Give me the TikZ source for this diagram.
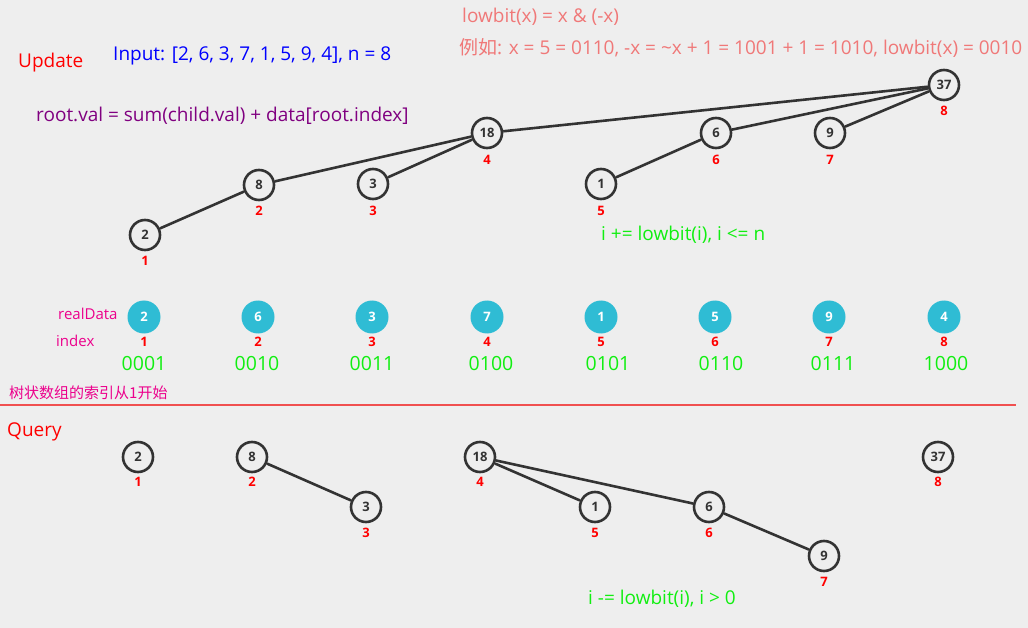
\documentclass[tikz,border=0pt]{standalone}
\usepackage{fontspec}
\setmainfont{Open Sans}
\newfontfamily\cjk{Noto Sans CJK SC}
\usepackage{xcolor}

\definecolor{bgGray}{HTML}{EEEEEE}
\definecolor{edgeGray}{HTML}{333333}
\definecolor{dataCyan}{HTML}{2FBCD4}
\definecolor{noteRed}{HTML}{F07878}
\definecolor{codeGreen}{HTML}{11EE11}
\definecolor{rootPurple}{HTML}{800080}
\definecolor{cutRed}{HTML}{F05050}

\begin{document}
\begin{tikzpicture}[x=1pt,y=-1pt]
            \tikzstyle{every node}+=[inner sep=0pt]
            \tikzstyle{tree}=[circle, draw=edgeGray, line width=2.6pt, minimum size=30pt, font=\fontsize{13}{13}\selectfont\bfseries, text=edgeGray]
            \tikzstyle{data}=[circle, fill=dataCyan, minimum size=33pt, font=\fontsize{13}{13}\selectfont\bfseries, text=white]
            \tikzstyle{idx}=[font=\fontsize{13}{13}\selectfont\bfseries, text=red]
            \tikzstyle{link}=[edgeGray, line width=2.6pt]
            \tikzstyle{txt}=[anchor=west, font=\fontsize{19}{21}\selectfont]
            \tikzstyle{bits}=[text=codeGreen, font=\fontsize{19.5}{21}\selectfont]
            \useasboundingbox (0,0) rectangle (1028,628);
            \fill [bgGray] (0,0) rectangle (1028,628);
            % formulas on top
            \node (lowbit) [txt, text=noteRed] at (462,17) {lowbit(x) = x \& (-x)};
            \node (example) [txt, text=noteRed] at (459,48) {{\cjk 例如}: x = 5 = 0110, -x = \textasciitilde x + 1 = 1001 + 1 = 1010, lowbit(x) = 0010};
            \node (update) [txt, text=red] at (18,63) {Update};
            \node (input) [txt, text=blue] at (113,56) {Input: [2, 6, 3, 7, 1, 5, 9, 4], n = 8};
            \node (rule) [txt, text=rootPurple] at (36,116) {root.val = sum(child.val) + data[root.index]};
            % update tree
            \node (u1) [tree] at (145,235) {2};
            \node (u2) [tree] at (259,185) {8};
            \node (u3) [tree] at (373,184) {3};
            \node (u4) [tree] at (487,133) {18};
            \node (u5) [tree] at (601,184) {1};
            \node (u6) [tree] at (716,133) {6};
            \node (u7) [tree] at (830,133) {9};
            \node (u8) [tree] at (944,85) {37};
            \node (ui1) [idx] at (145,261) {1};
            \node (ui2) [idx] at (259,211) {2};
            \node (ui3) [idx] at (373,211) {3};
            \node (ui4) [idx] at (487,160) {4};
            \node (ui5) [idx] at (601,211) {5};
            \node (ui6) [idx] at (716,160) {6};
            \node (ui7) [idx] at (830,160) {7};
            \node (ui8) [idx] at (944,111) {8};
            \draw [link] (u1) -- (u2);
            \draw [link] (u2) -- (u4);
            \draw [link] (u3) -- (u4);
            \draw [link] (u4) -- (u8);
            \draw [link] (u5) -- (u6);
            \draw [link] (u6) -- (u8);
            \draw [link] (u7) -- (u8);
            \node (upRule) [txt, text=codeGreen] at (601,235) {i += lowbit(i), i <= n};
            % real data row
            \node (realData) [txt, text=magenta, font=\fontsize{15}{17}\selectfont] at (58,314) {realData};
            \node (index) [txt, text=magenta, font=\fontsize{15}{17}\selectfont] at (56,341) {index};
            \node (d1) [data] at (144,317) {2};
            \node (d2) [data] at (258,317) {6};
            \node (d3) [data] at (372,317) {3};
            \node (d4) [data] at (487,317) {7};
            \node (d5) [data] at (601,317) {1};
            \node (d6) [data] at (715,317) {5};
            \node (d7) [data] at (829,317) {9};
            \node (d8) [data] at (944,317) {4};
            \node (di1) [idx] at (144,342) {1};
            \node (di2) [idx] at (258,342) {2};
            \node (di3) [idx] at (372,342) {3};
            \node (di4) [idx] at (487,342) {4};
            \node (di5) [idx] at (601,342) {5};
            \node (di6) [idx] at (715,342) {6};
            \node (di7) [idx] at (829,342) {7};
            \node (di8) [idx] at (944,342) {8};
            \node (b1) [bits] at (144,364) {0001};
            \node (b2) [bits] at (257,364) {0010};
            \node (b3) [bits] at (372,364) {0011};
            \node (b4) [bits] at (491,364) {0100};
            \node (b5) [bits] at (608,364) {0101};
            \node (b6) [bits] at (721,364) {0110};
            \node (b7) [bits] at (833,364) {0111};
            \node (b8) [bits] at (946,364) {1000};
            \node (start) [txt, text=magenta, font=\fontsize{15}{17}\selectfont\cjk] at (9,393) {树状数组的索引从1开始};
            \coordinate (cutL) at (0,405);
            \coordinate (cutR) at (1016,405);
            \draw [cutRed, line width=2pt] (cutL) -- (cutR);
            % query tree
            \node (query) [txt, text=red] at (7,432) {Query};
            \node (q1) [tree] at (138,457) {2};
            \node (q2) [tree] at (252,457) {8};
            \node (q3) [tree] at (366,507) {3};
            \node (q4) [tree] at (480,457) {18};
            \node (q5) [tree] at (595,507) {1};
            \node (q6) [tree] at (709,507) {6};
            \node (q7) [tree] at (824,556) {9};
            \node (q8) [tree] at (938,457) {37};
            \node (qi1) [idx] at (138,482) {1};
            \node (qi2) [idx] at (252,482) {2};
            \node (qi3) [idx] at (366,533) {3};
            \node (qi4) [idx] at (480,482) {4};
            \node (qi5) [idx] at (595,533) {5};
            \node (qi6) [idx] at (709,533) {6};
            \node (qi7) [idx] at (824,582) {7};
            \node (qi8) [idx] at (938,482) {8};
            \draw [link] (q2) -- (q3);
            \draw [link] (q4) -- (q5);
            \draw [link] (q4) -- (q6);
            \draw [link] (q6) -- (q7);
            \node (downRule) [txt, text=codeGreen] at (588,599) {i -= lowbit(i), i > 0};
            \end{tikzpicture}
\end{document}
